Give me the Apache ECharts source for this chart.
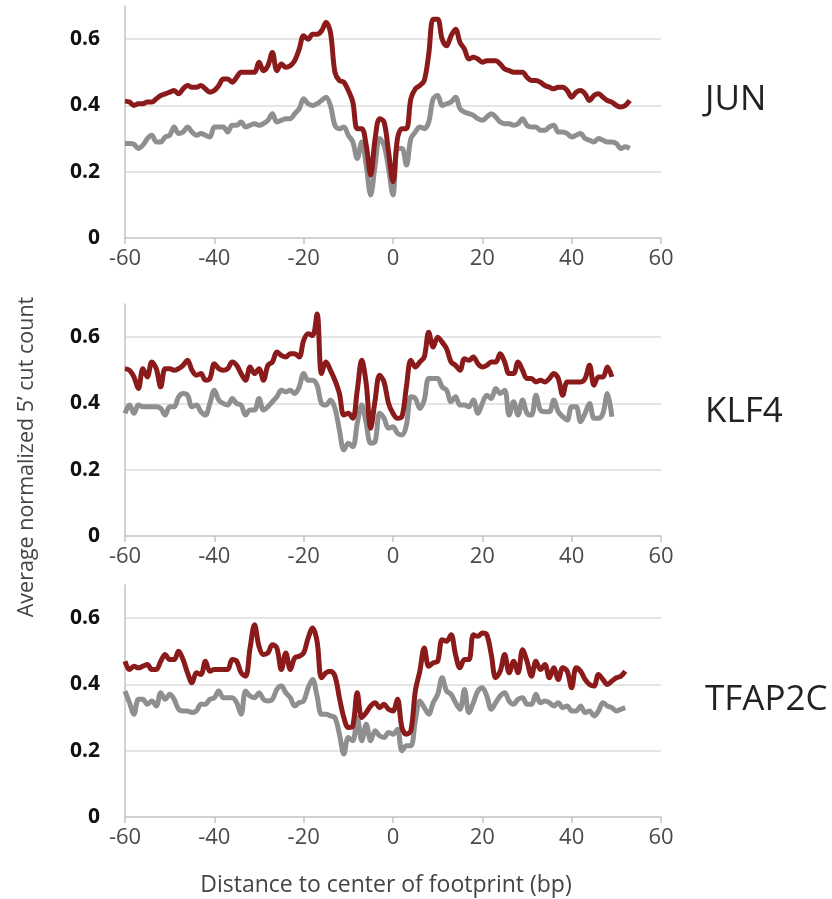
<!DOCTYPE html>
<html>
<head>
<meta charset="utf-8">
<title>Footprint cut count profiles</title>
<script src="https://cdn.jsdelivr.net/npm/echarts/dist/echarts.min.js"></script>
<style>
    html, body { margin: 0; padding: 0; background: #fff; }
    #chart { width: 832px; height: 899px; }
</style>
</head>
<body>
<div id="chart"></div>
<script>
// x positions start at -60 bp, one value per bp
const xStart = -60;
const xTicks = [-60, -40, -20, 0, 20, 40, 60];
const yTicks = [0, 0.2, 0.4, 0.6];
const panelNames = ['JUN', 'KLF4', 'TFAP2C'];

const junRed = [
    0.413, 0.41, 0.40, 0.405, 0.405, 0.41, 0.41, 0.42, 0.43, 0.435,
    0.44, 0.445, 0.435, 0.45, 0.46, 0.455, 0.455, 0.46, 0.45, 0.44,
    0.445, 0.46, 0.48, 0.48, 0.47, 0.485, 0.5, 0.5, 0.5, 0.5,
    0.53, 0.505, 0.52, 0.56, 0.505, 0.525, 0.515, 0.52, 0.535, 0.57,
    0.61, 0.6, 0.615, 0.615, 0.625, 0.65, 0.62, 0.5, 0.475, 0.47,
    0.445, 0.41, 0.33, 0.33, 0.28, 0.19, 0.3, 0.36, 0.35, 0.26,
    0.17, 0.3, 0.33, 0.33, 0.42, 0.45, 0.46, 0.475, 0.555, 0.66,
    0.66, 0.6, 0.58, 0.61, 0.63, 0.59, 0.57, 0.54, 0.545, 0.54,
    0.53, 0.535, 0.535, 0.535, 0.525, 0.51, 0.505, 0.5, 0.5, 0.5,
    0.485, 0.475, 0.475, 0.47, 0.46, 0.455, 0.45, 0.455, 0.455, 0.445,
    0.425, 0.44, 0.445, 0.435, 0.415, 0.43, 0.435, 0.425, 0.415, 0.41,
    0.4, 0.395, 0.4, 0.415
];
const junGray = [
    0.285, 0.285, 0.283, 0.27, 0.28, 0.3, 0.31, 0.29, 0.29, 0.305,
    0.31, 0.335, 0.315, 0.32, 0.335, 0.32, 0.31, 0.315, 0.31, 0.305,
    0.335, 0.335, 0.335, 0.32, 0.34, 0.34, 0.35, 0.335, 0.34, 0.345,
    0.34, 0.345, 0.355, 0.375, 0.35, 0.355, 0.36, 0.36, 0.375, 0.39,
    0.42, 0.405, 0.4, 0.405, 0.415, 0.425, 0.4, 0.34, 0.33, 0.335,
    0.31, 0.29, 0.24, 0.29, 0.22, 0.13, 0.22, 0.3, 0.28, 0.21,
    0.13, 0.27, 0.27, 0.22, 0.3, 0.32, 0.335, 0.33, 0.35, 0.42,
    0.43, 0.4, 0.405, 0.41, 0.425, 0.39, 0.38, 0.375, 0.37, 0.36,
    0.355, 0.365, 0.375, 0.365, 0.35, 0.345, 0.345, 0.34, 0.345, 0.36,
    0.34, 0.335, 0.335, 0.325, 0.325, 0.335, 0.34, 0.32, 0.32, 0.315,
    0.305, 0.31, 0.315, 0.3, 0.295, 0.29, 0.3, 0.295, 0.29, 0.29,
    0.285, 0.27, 0.275, 0.27
];

const klf4Red = [
    0.505, 0.5, 0.48, 0.445, 0.505, 0.48, 0.525, 0.505, 0.45, 0.505,
    0.505, 0.5, 0.505, 0.515, 0.53, 0.5, 0.485, 0.49, 0.47, 0.475,
    0.52, 0.505, 0.5, 0.505, 0.525, 0.515, 0.49, 0.47, 0.51, 0.49,
    0.505, 0.47, 0.515, 0.525, 0.555, 0.545, 0.54, 0.55, 0.55, 0.54,
    0.59, 0.61, 0.605, 0.67, 0.49, 0.525, 0.5, 0.47, 0.43, 0.365,
    0.37, 0.355, 0.44, 0.53, 0.46, 0.325, 0.41, 0.485, 0.465, 0.4,
    0.37, 0.355, 0.36, 0.45, 0.53, 0.51, 0.525, 0.54, 0.615, 0.57,
    0.6, 0.585, 0.565, 0.525, 0.515, 0.5, 0.535, 0.53, 0.54, 0.52,
    0.51, 0.515, 0.525, 0.525, 0.55, 0.525, 0.49, 0.49, 0.525, 0.5,
    0.475, 0.475, 0.465, 0.47, 0.465, 0.475, 0.49, 0.475, 0.425, 0.465,
    0.465, 0.465, 0.465, 0.475, 0.515, 0.455, 0.48, 0.48, 0.51, 0.48
];
const klf4Gray = [
    0.37, 0.395, 0.37, 0.395, 0.39, 0.39, 0.39, 0.39, 0.385, 0.365,
    0.39, 0.39, 0.42, 0.43, 0.425, 0.39, 0.395, 0.375, 0.365, 0.4,
    0.44, 0.41, 0.4, 0.395, 0.415, 0.4, 0.395, 0.365, 0.38, 0.38,
    0.415, 0.38, 0.39, 0.405, 0.42, 0.44, 0.435, 0.44, 0.43, 0.45,
    0.49, 0.47, 0.47, 0.455, 0.4, 0.395, 0.41, 0.385, 0.32, 0.26,
    0.28, 0.27, 0.34, 0.395, 0.34, 0.28, 0.285, 0.37, 0.355, 0.325,
    0.33, 0.31, 0.305, 0.335, 0.42, 0.415, 0.385, 0.41, 0.475, 0.475,
    0.475, 0.45, 0.44, 0.405, 0.42, 0.395, 0.395, 0.39, 0.41, 0.37,
    0.4, 0.425, 0.415, 0.445, 0.43, 0.44, 0.365, 0.405, 0.365, 0.41,
    0.37, 0.365, 0.425, 0.38, 0.375, 0.375, 0.41, 0.375, 0.36, 0.35,
    0.39, 0.39, 0.345, 0.37, 0.4, 0.355, 0.355, 0.37, 0.43, 0.36
];

const tfap2cRed = [
    0.47, 0.445, 0.455, 0.45, 0.455, 0.46, 0.445, 0.445, 0.47, 0.49,
    0.475, 0.475, 0.5, 0.475, 0.435, 0.405, 0.435, 0.43, 0.47, 0.44,
    0.445, 0.445, 0.445, 0.445, 0.475, 0.47, 0.435, 0.425, 0.51, 0.58,
    0.515, 0.49, 0.495, 0.52, 0.51, 0.445, 0.495, 0.445, 0.48, 0.485,
    0.495, 0.54, 0.57, 0.53, 0.42, 0.435, 0.44, 0.425, 0.36, 0.3,
    0.27, 0.275, 0.375, 0.3, 0.315, 0.335, 0.345, 0.33, 0.34, 0.325,
    0.32, 0.355, 0.27, 0.25, 0.26, 0.38, 0.44, 0.51, 0.455, 0.465,
    0.47, 0.535, 0.53, 0.55, 0.49, 0.45, 0.475, 0.475, 0.55, 0.545,
    0.555, 0.55, 0.49, 0.42, 0.44, 0.49, 0.435, 0.47, 0.435, 0.505,
    0.47, 0.425, 0.47, 0.445, 0.46, 0.42, 0.45, 0.415, 0.45, 0.44,
    0.39, 0.45, 0.44, 0.415, 0.4, 0.395, 0.43, 0.415, 0.4, 0.41,
    0.42, 0.425, 0.44
];
const tfap2cGray = [
    0.38, 0.345, 0.31, 0.355, 0.355, 0.34, 0.35, 0.335, 0.375, 0.355,
    0.37, 0.355, 0.325, 0.32, 0.32, 0.315, 0.32, 0.34, 0.34, 0.355,
    0.36, 0.38, 0.36, 0.36, 0.36, 0.345, 0.31, 0.38, 0.365, 0.36,
    0.375, 0.355, 0.35, 0.355, 0.385, 0.395, 0.375, 0.36, 0.335, 0.345,
    0.35, 0.39, 0.415, 0.365, 0.31, 0.31, 0.305, 0.3, 0.25, 0.19,
    0.24, 0.23, 0.3, 0.23, 0.28, 0.23, 0.26, 0.245, 0.24, 0.255,
    0.25, 0.265, 0.2, 0.215, 0.215, 0.29, 0.35, 0.33, 0.31, 0.345,
    0.37, 0.42, 0.38, 0.37, 0.345, 0.325, 0.385, 0.315, 0.345, 0.38,
    0.39, 0.365, 0.325, 0.345, 0.365, 0.375, 0.35, 0.34, 0.355, 0.36,
    0.34, 0.34, 0.37, 0.345, 0.35, 0.345, 0.335, 0.345, 0.33, 0.335,
    0.32, 0.32, 0.335, 0.315, 0.32, 0.305, 0.32, 0.345, 0.335, 0.33,
    0.32, 0.325, 0.33
];

const panels = [
    {red: junRed, gray: junGray},
    {red: klf4Red, gray: klf4Gray},
    {red: tfap2cRed, gray: tfap2cGray}
];

const RED = '#8b1a1a';
const GRAY = '#8f8f8f';
const gridTops = [6, 304, 585];
const gridHeight = 232;
const labelY = [100, 412, 700];

function toPairs(values) {
    return values.map((v, i) => [xStart + i, v]);
}

let myChart = echarts.init(document.getElementById('chart'), null, {renderer: 'canvas'});

let grids = [], xAxes = [], yAxes = [], series = [], graphics = [];

panels.forEach((p, k) => {
    grids.push({left: 125, width: 536, top: gridTops[k], height: gridHeight, show: false});
    xAxes.push({
        type: 'value',
        gridIndex: k,
        min: xTicks[0],
        max: xTicks[xTicks.length - 1],
        interval: 20,
        axisLine: {show: true, onZero: false, lineStyle: {color: '#c4c4c4', width: 1.5}},
        axisTick: {show: true, length: 6, lineStyle: {color: '#c4c4c4', width: 1.5}},
        splitLine: {show: false},
        axisLabel: {
            margin: 10,
            color: '#4a4a4a',
            fontSize: 22,
            fontFamily: 'Open Sans'
        }
    });
    yAxes.push({
        type: 'value',
        gridIndex: k,
        min: yTicks[0],
        max: 0.7,
        interval: 0.2,
        axisLine: {show: true, onZero: false, lineStyle: {color: '#c4c4c4', width: 1.5}},
        axisTick: {show: false},
        splitLine: {show: true, showMinLine: false, showMaxLine: false, lineStyle: {color: '#dcdcdc', width: 1.5}},
        axisLabel: {
            showMaxLabel: false,
            margin: 25,
            color: '#111',
            fontSize: 21,
            fontWeight: 'bold',
            fontFamily: 'Open Sans'
        }
    });
    [['gray', GRAY], ['red', RED]].forEach(([key, color]) => {
        series.push({
            type: 'line',
            xAxisIndex: k,
            yAxisIndex: k,
            showSymbol: false,
            smooth: 0.35,
            lineStyle: {color: color, width: 5},
            data: toPairs(p[key])
        });
    });
    graphics.push({
        type: 'text',
        x: 705,
        y: labelY[k],
        style: {
            text: panelNames[k],
            fill: '#222',
            font: '35px "Open Sans"',
            verticalAlign: 'middle'
        }
    });
});

graphics.push({
    type: 'text',
    x: 27,
    y: 457,
    rotation: Math.PI / 2,
    style: {
        text: 'Average normalized 5\u2019 cut count',
        fill: '#444',
        font: '21.5px "Open Sans"',
        align: 'center',
        verticalAlign: 'middle'
    }
});
graphics.push({
    type: 'text',
    x: 386,
    y: 885,
    style: {
        text: 'Distance to center of footprint (bp)',
        fill: '#444',
        font: '23px "Open Sans"',
        align: 'center',
        verticalAlign: 'middle'
    }
});

let option = {
    backgroundColor: '#fff',
    animation: false,
    grid: grids,
    xAxis: xAxes,
    yAxis: yAxes,
    series: series,
    graphic: graphics
};
option && myChart.setOption(option);
</script>
</body>
</html>
